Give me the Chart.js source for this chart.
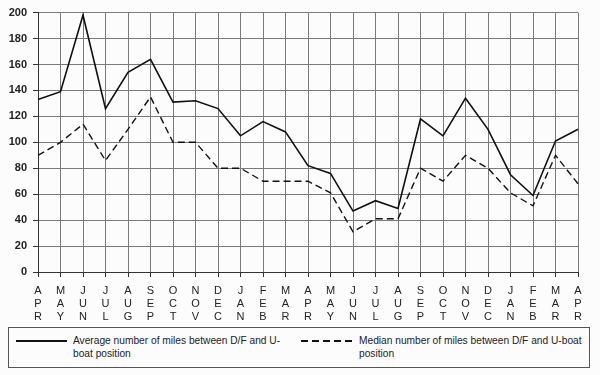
<!DOCTYPE html>
<html>
<head>
<meta charset="utf-8">
<script src="https://cdn.jsdelivr.net/npm/chart.js@4/dist/chart.umd.min.js"></script>
<style>
    body { margin: 0; background: #fcfcfc; font-family: "Liberation Sans", Arial, sans-serif; }
    #wrap { position: relative; width: 600px; height: 375px; }
    #legend { position: absolute; left: 8px; top: 327px; width: 582px; height: 41px; border: 1px solid #555; box-sizing: border-box; color: #222; font-size: 10.2px; line-height: 12.5px; }
    .item { position: absolute; top: 7px; }
    .sample { position: absolute; top: 5px; width: 51px; height: 1.5px; background: #111; }
    .dash { background: repeating-linear-gradient(to right, #111 0 7px, transparent 7px 11px); }
    .txt { position: absolute; white-space: nowrap; }
</style>
</head>
<body>
<div id="wrap">
    <canvas id="uboat-chart" width="600" height="326"></canvas>
    <div id="legend">
        <div class="item" style="left:0">
            <div class="sample" style="left:7px"></div>
            <div class="txt" style="left:64px">Average number of miles between D/F and U-<br>boat position</div>
        </div>
        <div class="item" style="left:0">
            <div class="sample dash" style="left:292px"></div>
            <div class="txt" style="left:350px">Median number of miles between D/F and U-boat<br>position</div>
        </div>
    </div>
</div>
<script>
    // months Apr (year 1) .. Apr (year 3)
    var months = ['APR', 'MAY', 'JUN', 'JUL', 'AUG', 'SEP', 'OCT', 'NOV', 'DEC', 'JAN', 'FEB', 'MAR',
        'APR', 'MAY', 'JUN', 'JUL', 'AUG', 'SEP', 'OCT', 'NOV', 'DEC', 'JAN', 'FEB', 'MAR', 'APR'];
    var averageMiles = [133, 139, 198, 126, 154, 164, 131, 132, 126, 105, 116, 108,
        82, 76, 47, 55, 49, 118, 105, 134, 110, 75, 59, 101, 110];
    var medianMiles = [90, 100, 114, 86, 110, 135, 100, 100, 80, 80, 70, 70,
        70, 61, 31, 41, 41, 80, 70, 90, 80, 61, 51, 90, 68];
    var yMax = 200;
    var yStep = 20;

    var config = {
        type: 'line',
        data: {
            labels: months.map(function (m) { return m.split(''); }),
            datasets: [
                {
                    label: 'Average number of miles between D/F and U-boat position',
                    data: averageMiles,
                    borderColor: '#111',
                    borderWidth: 1.6,
                    pointRadius: 0,
                    tension: 0,
                    fill: false,
                },
                {
                    label: 'Median number of miles between D/F and U-boat position',
                    data: medianMiles,
                    borderColor: '#111',
                    borderWidth: 1.4,
                    borderDash: [7, 4],
                    pointRadius: 0,
                    tension: 0,
                    fill: false,
                },
            ]
        },
        options: {
            responsive: false,
            animation: false,
            layout: {padding: {top: 12, right: 22, left: 0, bottom: 0}},
            plugins: {
                legend: {display: false},
                tooltip: {enabled: false},
            },
            scales: {
                x: {
                    offset: false,
                    grid: {color: '#7a7a7a', lineWidth: 1, tickLength: 5, tickColor: '#333'},
                    border: {color: '#333', width: 1},
                    ticks: {
                        color: '#222',
                        maxRotation: 0,
                        autoSkip: false,
                        padding: 7,
                        font: {family: '"Liberation Sans", Arial', size: 11, lineHeight: 1.2},
                    },
                    afterFit: function (scale) { scale.height = 54; },
                },
                y: {
                    min: 0,
                    max: yMax,
                    grid: {color: '#7a7a7a', lineWidth: 1, tickLength: 5, tickColor: '#333'},
                    border: {color: '#333', width: 1},
                    ticks: {
                        stepSize: yStep,
                        color: '#222',
                        padding: 6,
                        font: {family: '"Liberation Sans", Arial', size: 11, weight: 'bold'},
                    },
                    afterFit: function (scale) { scale.width = 38; },
                }
            }
        }
    };

    var ctx = document.getElementById('uboat-chart').getContext('2d');
    window.uboatChart = new Chart(ctx, config);
</script>
</body>
</html>
